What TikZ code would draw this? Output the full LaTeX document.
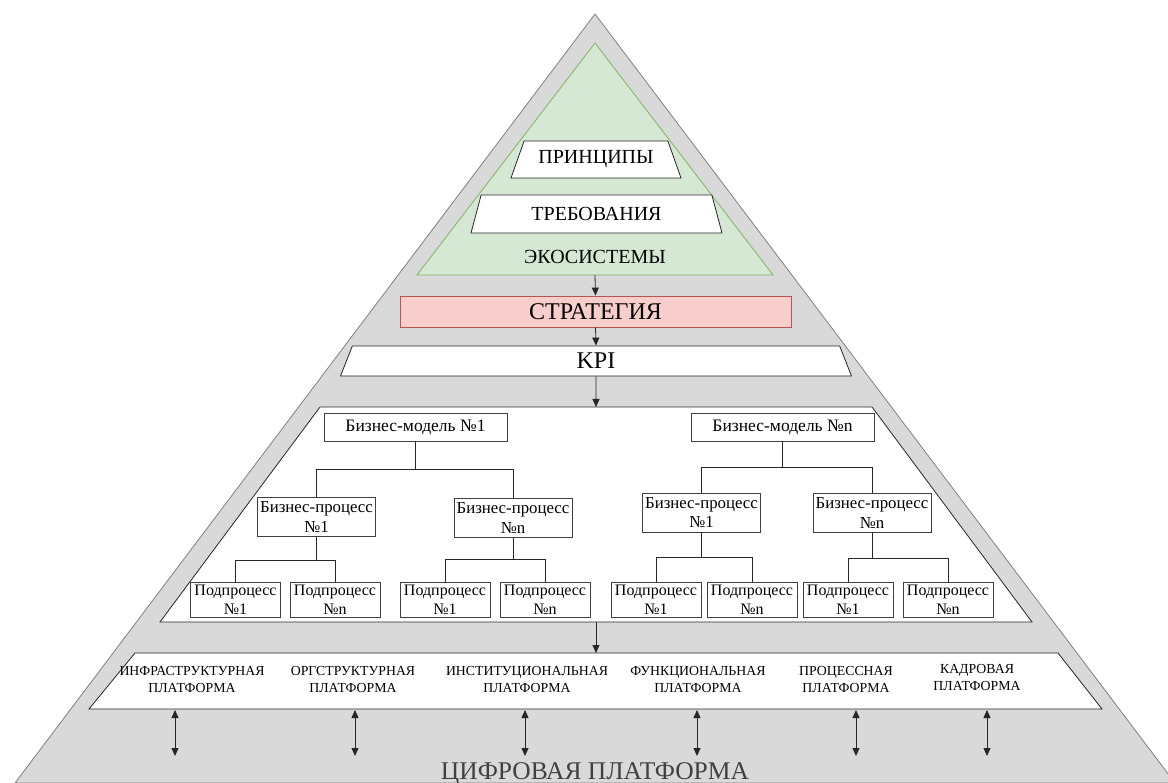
\documentclass[tikz,border=0pt]{standalone}
\usepackage{fontspec}
\setmainfont{Liberation Serif}
\usetikzlibrary{shapes.geometric,arrows.meta}

\definecolor{basegrey}{HTML}{D9D9D9}
\definecolor{edgegrey}{HTML}{808080}
\definecolor{ecogreen}{HTML}{D5E8D4}
\definecolor{ecoline}{HTML}{82B366}
\definecolor{stratred}{HTML}{F8CECC}
\definecolor{stratline}{HTML}{B85450}

\tikzset{
  link/.style={-{Triangle[length=8pt,width=7pt]}, line width=0.8pt, black!85},
  twoway/.style={{Triangle[length=8pt,width=7pt]}-{Triangle[length=8pt,width=7pt]}, line width=0.8pt, black!85},
  level/.style={trapezium, trapezium stretches body, trapezium angle=53, draw=black!85, fill=white, line width=0.8pt, inner sep=0pt},
  layer/.style={draw=black!85, fill=white, line width=0.8pt},
  modelbox/.style={draw=black!75, fill=white, line width=0.8pt, minimum width=183pt, minimum height=28pt, inner sep=0pt, font=\fontsize{17.5}{20}\selectfont},
  procbox/.style={draw=black!75, fill=white, line width=0.8pt, minimum width=118pt, minimum height=39pt, inner sep=0pt, align=center, font=\fontsize{16.8}{20}\selectfont},
  subbox/.style={draw=black!75, fill=white, line width=0.8pt, minimum width=90pt, minimum height=35pt, inner sep=0pt, align=center, font=\fontsize{16}{19}\selectfont},
  tree/.style={line width=0.8pt, black!85},
  platlabel/.style={align=center, font=\fontsize{13.8}{17}\selectfont}
}

\begin{document}
\begin{tikzpicture}[x=1pt,y=-1pt]
    % Set up the page
    \useasboundingbox (0,0) rectangle (1168,783);
    \clip (0,0) rectangle (1168,783);

    % Pyramid
    \draw[fill=basegrey, draw=edgegrey, line width=0.8pt] (595,14) -- (15,783) -- (1175,783) -- cycle;

    % Ecosystem
    \draw[fill=ecogreen, draw=ecoline, line width=0.8pt] (595,43) -- (417,275) -- (773,275) -- cycle;
    \node[level, minimum width=170pt, minimum height=37pt, font=\fontsize{20}{22}\selectfont] (princ) at (596,159.5) {ПРИНЦИПЫ};
    \node[level, minimum width=251pt, minimum height=38pt, font=\fontsize{20}{22}\selectfont] (req) at (596.5,214) {ТРЕБОВАНИЯ};
    \node[font=\fontsize{20}{22}\selectfont] (eco) at (595,257) {ЭКОСИСТЕМЫ};
    \coordinate (ecobase) at (595,275);

    % Strategy and KPI
    \node[draw=stratline, fill=stratred, line width=0.8pt, minimum width=391pt, minimum height=31pt, inner sep=0pt, font=\fontsize{24}{26}\selectfont] (strat) at (595.5,311.5) {СТРАТЕГИЯ};
    \node[level, minimum width=511pt, minimum height=30pt, font=\fontsize{24}{26}\selectfont] (kpi) at (596,361) {KPI};

    \draw[link] (ecobase) -- (strat.north);
    \draw[link] (strat.south) -- (kpi.north);

    % Business models
    \draw[layer] (320,407) -- (872,407) -- (1032,622) -- (160,622) -- cycle;
    \coordinate (modelstop) at (596,407);
    \coordinate (modelsbot) at (596,622);
    \draw[link] (kpi.south) -- (modelstop);

    \node[modelbox] (modA) at (415.5,427) {Бизнес-модель №1};
    \node[modelbox] (modB) at (782.5,427) {Бизнес-модель №n};

    \node[procbox] (procA1) at (316.5,517) {Бизнес-процесс\\№1};
    \node[procbox] (procAn) at (513,518) {Бизнес-процесс\\№n};
    \node[procbox] (procB1) at (701.5,512.5) {Бизнес-процесс\\№1};
    \node[procbox] (procBn) at (872,513) {Бизнес-процесс\\№n};

    \node[subbox] (subA11) at (235.5,599.5) {Подпроцесс\\№1};
    \node[subbox] (subA1n) at (335,599.5) {Подпроцесс\\№n};
    \node[subbox] (subAn1) at (445,599.5) {Подпроцесс\\№1};
    \node[subbox] (subAnn) at (545,599.5) {Подпроцесс\\№n};
    \node[subbox] (subB11) at (656,599.5) {Подпроцесс\\№1};
    \node[subbox] (subB1n) at (752,599.5) {Подпроцесс\\№n};
    \node[subbox] (subBn1) at (848,599.5) {Подпроцесс\\№1};
    \node[subbox] (subBnn) at (948,599.5) {Подпроцесс\\№n};

    % Tree lines
    \draw[tree] (modA.south) -- ++(0,28) coordinate (jA) -| (procA1.north);
    \draw[tree] (jA) -| (procAn.north);
    \draw[tree] (modB.south) -- ++(0,26) coordinate (jB) -| (procB1.north);
    \draw[tree] (jB) -| (procBn.north);

    \draw[tree] (procA1.south) -- ++(0,23) coordinate (jA1) -| (subA11.north);
    \draw[tree] (jA1) -| (subA1n.north);
    \draw[tree] (procAn.south) -- ++(0,21) coordinate (jAn) -| (subAn1.north);
    \draw[tree] (jAn) -| (subAnn.north);
    \draw[tree] (procB1.south) -- ++(0,25) coordinate (jB1) -| (subB11.north);
    \draw[tree] (jB1) -| (subB1n.north);
    \draw[tree] (procBn.south) -- ++(0,25) coordinate (jBn) -| (subBn1.north);
    \draw[tree] (jBn) -| (subBnn.north);

    % Platforms
    \draw[layer] (135,653) -- (1058,653) -- (1102,709) -- (89,709) -- cycle;
    \coordinate (plattop) at (596,653);
    \draw[link] (modelsbot) -- (plattop);

    \node[platlabel] (infra) at (192,679) {ИНФРАСТРУКТУРНАЯ\\ПЛАТФОРМА};
    \node[platlabel] (org) at (353,679) {ОРГСТРУКТУРНАЯ\\ПЛАТФОРМА};
    \node[platlabel] (inst) at (527,679) {ИНСТИТУЦИОНАЛЬНАЯ\\ПЛАТФОРМА};
    \node[platlabel] (func) at (698,679) {ФУНКЦИОНАЛЬНАЯ\\ПЛАТФОРМА};
    \node[platlabel] (proc) at (846,679) {ПРОЦЕССНАЯ\\ПЛАТФОРМА};
    \node[platlabel] (staff) at (977,677) {КАДРОВАЯ\\ПЛАТФОРМА};

    % Two-way links
    \coordinate (d1) at (175,756);
    \coordinate (d2) at (355,756);
    \coordinate (d3) at (525,756);
    \coordinate (d4) at (697,756);
    \coordinate (d5) at (856,756);
    \coordinate (d6) at (987,756);
    \draw[twoway] (d1 |- 0,710) -- (d1);
    \draw[twoway] (d2 |- 0,710) -- (d2);
    \draw[twoway] (d3 |- 0,710) -- (d3);
    \draw[twoway] (d4 |- 0,710) -- (d4);
    \draw[twoway] (d5 |- 0,710) -- (d5);
    \draw[twoway] (d6 |- 0,710) -- (d6);

    % Digital platform
    \node[text=black!75, font=\fontsize{25.5}{28}\selectfont] (digital) at (595,774) {ЦИФРОВАЯ ПЛАТФОРМА};

\end{tikzpicture}
\end{document}
